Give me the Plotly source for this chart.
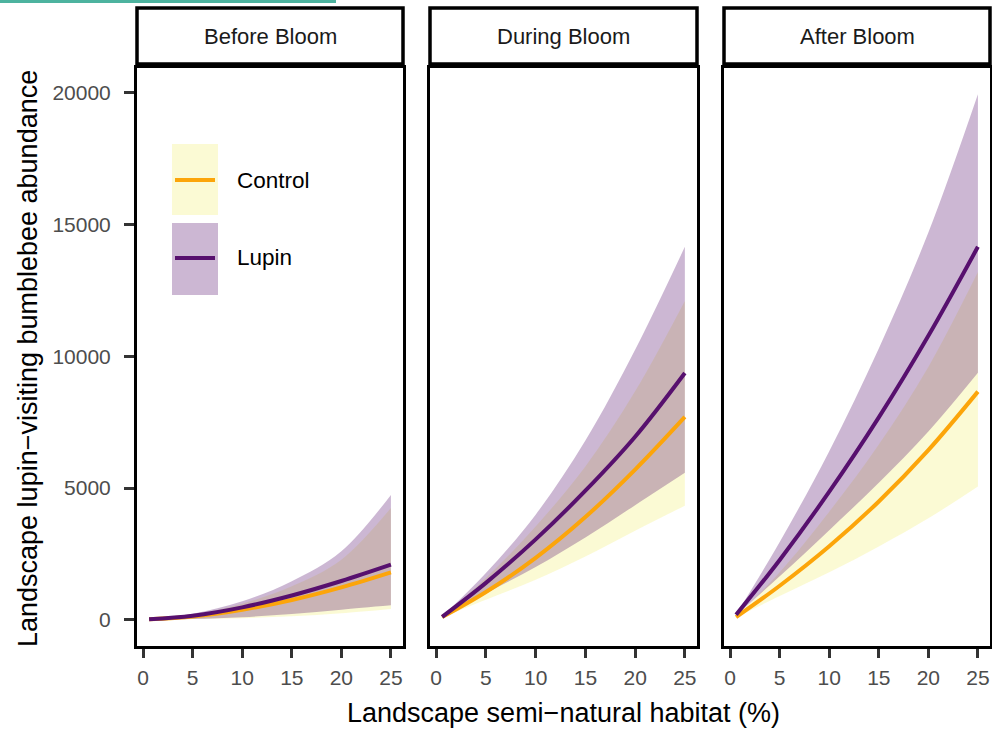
import plotly.graph_objects as go

W, H = 992, 729

# ---- data ----
phases = ["Before Bloom", "During Bloom", "After Bloom"]
habitat = [0.6, 5, 10, 15, 20, 25]

before_control_fit = [15, 120, 380, 750, 1230, 1800]
before_control_lo = [10, 25, 60, 130, 250, 410]
before_control_hi = [25, 190, 610, 1270, 2280, 4240]
before_lupin_fit = [15, 150, 470, 920, 1470, 2090]
before_lupin_lo = [12, 30, 95, 215, 380, 545]
before_lupin_hi = [28, 230, 700, 1460, 2600, 4740]

during_control_fit = [100, 1050, 2350, 3900, 5700, 7700]
during_control_lo = [90, 760, 1520, 2400, 3380, 4330]
during_control_hi = [115, 1580, 3540, 5820, 8670, 12100]
during_lupin_fit = [110, 1400, 3050, 4900, 6950, 9370]
during_lupin_lo = [100, 1000, 2000, 3120, 4350, 5580]
during_lupin_hi = [120, 1770, 3990, 6800, 10250, 14160]

after_control_fit = [100, 1290, 2790, 4490, 6440, 8660]
after_control_lo = [90, 900, 1800, 2780, 3850, 5060]
after_control_hi = [110, 1800, 4100, 6650, 9600, 13200]
after_lupin_fit = [190, 2270, 4860, 7680, 10780, 14160]
after_lupin_lo = [170, 1650, 3400, 5200, 7150, 9380]
after_lupin_hi = [200, 2950, 6400, 10300, 14700, 19950]

y_ticks = [0, 5000, 10000, 15000, 20000]
x_ticks = [0, 5, 10, 15, 20, 25]

panels = [
    (before_control_fit, before_control_lo, before_control_hi,
     before_lupin_fit, before_lupin_lo, before_lupin_hi),
    (during_control_fit, during_control_lo, during_control_hi,
     during_lupin_fit, during_lupin_lo, during_lupin_hi),
    (after_control_fit, after_control_lo, after_control_hi,
     after_lupin_fit, after_lupin_lo, after_lupin_hi),
]

CTRL_LINE = "#FCA50A"
LUP_LINE = "#57106E"
CTRL_FILL = "rgba(241,237,113,0.3)"
LUP_FILL = "rgba(87,16,110,0.3)"
FONT = "Liberation Sans, Arial, sans-serif"


def px_x(p):
    return p / W


def px_y(p):
    return 1 - p / H


panel_px = [(137, 403), (430, 697), (724, 990)]
y_top, y_bot = 68, 646

fig = go.Figure()

for i, (cf, clo, chi, lf, llo, lhi) in enumerate(panels):
    xa = "x" if i == 0 else f"x{i+1}"
    ya = "y" if i == 0 else f"y{i+1}"
    common = dict(xaxis=xa, yaxis=ya, hoverinfo="skip", showlegend=False, mode="lines")
    fig.add_trace(go.Scatter(x=habitat, y=clo, line=dict(width=0, shape="spline"), **common))
    fig.add_trace(go.Scatter(x=habitat, y=chi, fill="tonexty", fillcolor=CTRL_FILL,
                             line=dict(width=0, shape="spline"), **common))
    fig.add_trace(go.Scatter(x=habitat, y=llo, line=dict(width=0, shape="spline"), **common))
    fig.add_trace(go.Scatter(x=habitat, y=lhi, fill="tonexty", fillcolor=LUP_FILL,
                             line=dict(width=0, shape="spline"), **common))
    fig.add_trace(go.Scatter(x=habitat, y=cf, mode="lines", name="Control",
                             line=dict(color=CTRL_LINE, width=4, shape="spline"),
                             showlegend=False, xaxis=xa, yaxis=ya))
    fig.add_trace(go.Scatter(x=habitat, y=lf, mode="lines", name="Lupin",
                             line=dict(color=LUP_LINE, width=4, shape="spline"),
                             showlegend=False, xaxis=xa, yaxis=ya))

layout = dict(
    width=W, height=H,
    margin=dict(l=0, r=0, t=0, b=0),
    paper_bgcolor="white", plot_bgcolor="white",
    font=dict(family=FONT, color="#000000"),
    showlegend=False,
)

ydom = [px_y(y_bot), px_y(y_top)]
for i, (l, r) in enumerate(panel_px):
    xk = "xaxis" if i == 0 else f"xaxis{i+1}"
    yk = "yaxis" if i == 0 else f"yaxis{i+1}"
    ya = "y" if i == 0 else f"y{i+1}"
    xa = "x" if i == 0 else f"x{i+1}"
    layout[xk] = dict(domain=[px_x(l), px_x(r)], range=[-0.62, 26.22], anchor=ya,
                      showgrid=False, zeroline=False, showline=True, mirror=True,
                      linecolor="black", linewidth=3, ticks="outside", ticklen=9,
                      tickwidth=3, tickcolor="#333333", tickvals=x_ticks,
                      ticktext=[str(v) for v in x_ticks], ticklabelstandoff=2,
                      tickfont=dict(size=21, color="#4D4D4D", family=FONT))
    layout[yk] = dict(domain=ydom, range=[-998, 20948], anchor=xa,
                      showgrid=False, zeroline=False, showline=True, mirror=True,
                      linecolor="black", linewidth=3,
                      ticks="outside" if i == 0 else "", ticklen=10, tickwidth=3,
                      tickcolor="#333333", tickvals=y_ticks,
                      ticktext=[str(v) for v in y_ticks],
                      showticklabels=(i == 0), ticklabelstandoff=9,
                      tickfont=dict(size=21, color="#4D4D4D", family=FONT))

fig.update_layout(**layout)

shapes = []
annotations = []
# teal line at very top
shapes.append(dict(type="rect", xref="paper", yref="paper",
                   x0=0, x1=px_x(336), y0=px_y(3), y1=1,
                   fillcolor="#4DB39F", line=dict(width=0)))
# strips
for (l, r), name in zip(panel_px, phases):
    shapes.append(dict(type="rect", xref="paper", yref="paper",
                       x0=px_x(l), x1=px_x(r), y0=px_y(64), y1=px_y(8),
                       fillcolor="white", line=dict(color="black", width=3.5)))
    annotations.append(dict(xref="paper", yref="paper", x=px_x((l + r) / 2),
                            y=px_y(37), text=name, showarrow=False,
                            xanchor="center", yanchor="middle",
                            font=dict(size=22, color="#1A1A1A", family=FONT)))

# legend inside first panel
leg = [("Control", CTRL_FILL, CTRL_LINE, 144, 215, 180),
       ("Lupin", LUP_FILL, LUP_LINE, 223, 295, 258)]
for label, fillc, linec, t, b, mid in leg:
    shapes.append(dict(type="rect", xref="paper", yref="paper",
                       x0=px_x(172), x1=px_x(218), y0=px_y(b), y1=px_y(t),
                       fillcolor=fillc, line=dict(width=0)))
    shapes.append(dict(type="line", xref="paper", yref="paper",
                       x0=px_x(175), x1=px_x(215), y0=px_y(mid), y1=px_y(mid),
                       line=dict(color=linec, width=4)))
    annotations.append(dict(xref="paper", yref="paper", x=px_x(235), y=px_y(mid),
                            text=label, showarrow=False, xanchor="left",
                            yanchor="middle",
                            font=dict(size=22.5, color="#000000", family=FONT)))

# axis titles
annotations.append(dict(xref="paper", yref="paper", x=px_x(563), y=px_y(713),
                        text="Landscape semi\u2212natural habitat (%)", showarrow=False,
                        xanchor="center", yanchor="middle",
                        font=dict(size=27, color="#000000", family=FONT)))
annotations.append(dict(xref="paper", yref="paper", x=px_x(28), y=px_y(359),
                        text="Landscape lupin\u2212visiting bumblebee abundance",
                        showarrow=False, textangle=-90,
                        xanchor="center", yanchor="middle",
                        font=dict(size=27, color="#000000", family=FONT)))

fig.update_layout(shapes=shapes, annotations=annotations)
fig.write_html("out.html", config={"displayModeBar": False},
               post_script="document.body.style.margin='0px';")
